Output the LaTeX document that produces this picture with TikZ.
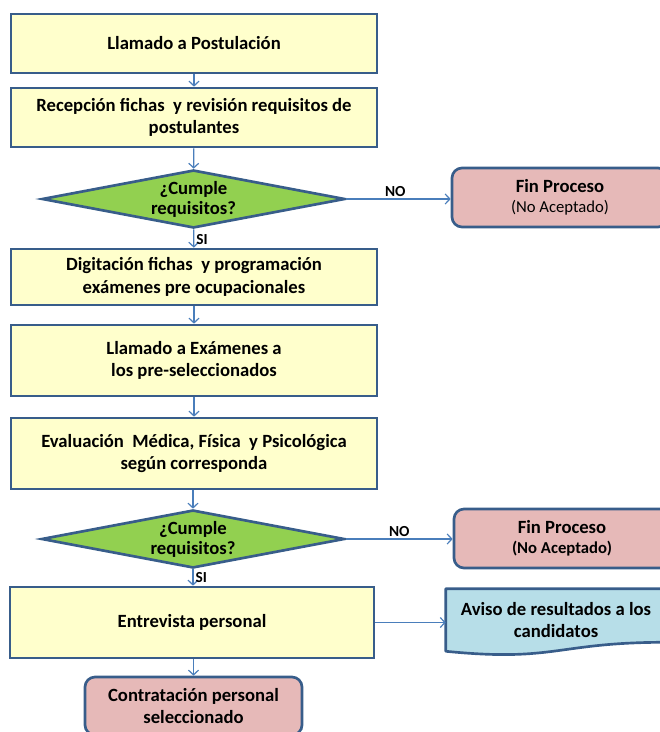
\documentclass[tikz,border=0pt]{standalone}
\usepackage{fontspec}
\setmainfont{Carlito}
\usepackage{tikz}
\usetikzlibrary{arrows.meta, shapes.geometric, positioning, backgrounds}
\definecolor{BoxBlue}{RGB}{56,93,138}
\definecolor{BoxYellow}{RGB}{255,255,204}
\definecolor{DecGreen}{RGB}{146,208,80}
\definecolor{EndPink}{RGB}{230,185,184}
\definecolor{DocBlue}{RGB}{183,222,232}
\definecolor{FlowBlue}{RGB}{74,126,187}

\begin{document}
\begin{tikzpicture}[x=0.75pt, y=-0.75pt,
  procbox/.style={draw=BoxBlue, fill=BoxYellow, line width=2pt, minimum width=274.5pt,
                  align=center, font=\bfseries\fontsize{14}{17}\selectfont, inner sep=2pt},
  decision/.style={diamond, draw=BoxBlue, fill=DecGreen, line width=2pt, aspect=5.2,
                   minimum width=227.25pt, minimum height=43.5pt, inner sep=0pt,
                   align=center, font=\bfseries\fontsize{14}{15}\selectfont},
  endbox/.style={draw=BoxBlue, fill=EndPink, line width=2pt, rounded corners=7.5pt,
                 align=center, font=\bfseries\fontsize{14}{17}\selectfont},
  docbox/.style={minimum width=165pt, minimum height=46.5pt, align=center,
                 font=\bfseries\fontsize{14}{16}\selectfont},
  flow/.style={draw=FlowBlue, line width=0.9pt, -{Straight Barb[length=3.5pt, width=7.5pt]}},
  flowlabel/.style={font=\bfseries\fontsize{11.5}{12}\selectfont, inner sep=1.5pt}
]
  \useasboundingbox (0,0) rectangle (660,732);
  \clip (0,0) rectangle (660,732);

  % main column
  \node[procbox, minimum height=44.25pt] (call) at (194,43.5) {Llamado a Postulación};
  \node[procbox, minimum height=44.25pt] (recep) at (194,117.5)
    {Recepción fichas\ \ y revisión requisitos de\\postulantes};
  \node[decision] (check1) at (193.5,199) {¿Cumple\\requisitos?};
  \node[procbox, minimum height=42pt] (digit) at (194,277)
    {Digitación fichas\ \ y programación\\exámenes pre ocupacionales};
  \node[procbox, minimum height=53.25pt] (exams) at (194,360.5)
    {Llamado a Exámenes a\\los pre-seleccionados};
  \node[procbox, minimum height=53.25pt] (evalu) at (194,453.5)
    {Evaluación\ \ Médica, Física\ \ y Psicológica\\según corresponda};
  \node[decision] (check2) at (193,539) {¿Cumple\\requisitos?};
  \node[procbox, minimum width=273pt, minimum height=53.25pt] (interv) at (192,622.5)
    {Entrevista personal};
  \node[endbox, minimum width=162.75pt, minimum height=43.5pt] (hire) at (193.5,706)
    {Contratación personal\\seleccionado};

  % side column
  \node[endbox, minimum width=162pt, minimum height=44.25pt] (end1) at (560,197.5)
    {Fin Proceso\\[-2pt]{\mdseries\fontsize{12.5}{13}\selectfont(No Aceptado)}};
  \node[endbox, minimum width=162pt, minimum height=44.25pt] (end2) at (562,538.5)
    {Fin Proceso\\[-2pt]{\fontsize{12.5}{13}\selectfont(No Aceptado)}};
  \node[docbox] (notice) at (556,620) {Aviso de resultados a los\\candidatos};
  \begin{pgfonlayer}{background}
    \draw[draw=BoxBlue, fill=DocBlue, line width=2pt, line join=round]
      (notice.north west) -- (notice.north east) -- ([yshift=6.75pt]notice.south east)
      .. controls ([yshift=6.75pt]notice.south) and ([yshift=-8.25pt]notice.south)
      .. (notice.south west) -- cycle;
  \end{pgfonlayer}

  % connectors
  \draw[flow] (call) -- (recep);
  \draw[flow] (recep) -- (check1);
  \draw[flow] (check1) -- node[flowlabel, right, pos=0.55] {SI} (digit);
  \draw[flow] (check1) -- node[flowlabel, above, pos=0.47] {NO} (end1.west |- check1.east);
  \draw[flow] (digit) -- (exams);
  \draw[flow] (exams) -- (evalu);
  \draw[flow] (evalu.south -| check2.north) -- (check2);
  \draw[flow] (check2) -- node[flowlabel, right, pos=0.5] {SI} (check2.south |- interv.north);
  \draw[flow] (check2) -- node[flowlabel, above, pos=0.5] {NO} (end2.west |- check2.east);
  \draw[flow] (interv.east) -- (interv.east -| notice.west);
  \draw[flow] (interv.south -| hire.north) -- (hire);
\end{tikzpicture}
\end{document}
